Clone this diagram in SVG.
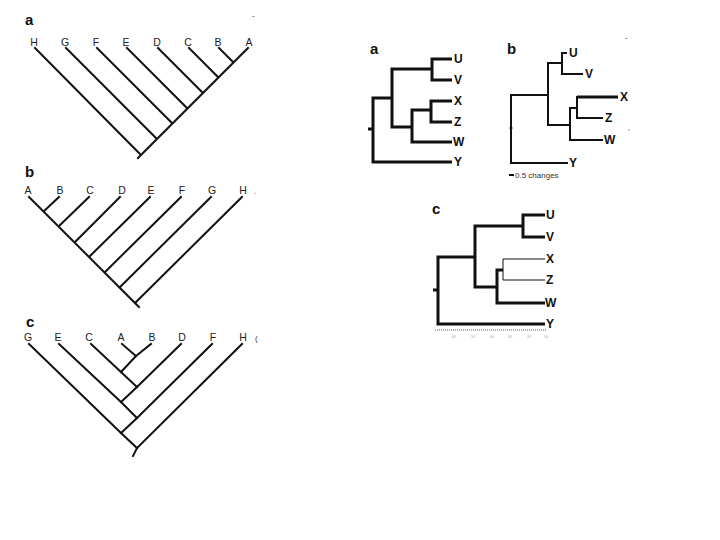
<svg xmlns="http://www.w3.org/2000/svg" width="720" height="540" viewBox="0 0 720 540">
<style>
.bg{fill:#fff}
.pl{font-family:"Liberation Sans",Arial,sans-serif;font-weight:bold;font-size:15px;fill:#111}
.tl{font-family:"Liberation Sans",Arial,sans-serif;font-size:10.5px;fill:#222;text-anchor:middle}
.rl{font-family:"Liberation Sans",Arial,sans-serif;font-size:12px;font-weight:bold;fill:#111;dominant-baseline:middle}
.e{fill:none;stroke:#111;stroke-width:2;stroke-linecap:square;stroke-linejoin:miter}
.t{fill:none;stroke:#111;stroke-width:3;stroke-linecap:butt}
.m{fill:none;stroke:#111;stroke-width:2;stroke-linecap:butt}
.h{fill:none;stroke:#111;stroke-width:1;stroke-linecap:butt}
.sm{font-family:"Liberation Sans",Arial,sans-serif;font-size:8px;fill:#333}
.ax{font-family:"Liberation Sans",Arial,sans-serif;font-size:4px;fill:#aaa;text-anchor:middle}
</style>
<rect class="bg" x="0" y="0" width="720" height="540"/>

<!-- Left panel a -->
<g id="left-a">
<text class="pl" x="25" y="25">a</text>
<text class="sm" x="252" y="18">-</text>
<text class="tl" x="34" y="46">H</text>
<text class="tl" x="65" y="46">G</text>
<text class="tl" x="96" y="46">F</text>
<text class="tl" x="126" y="46">E</text>
<text class="tl" x="157" y="46">D</text>
<text class="tl" x="188" y="46">C</text>
<text class="tl" x="218" y="46">B</text>
<text class="tl" x="249" y="46">A</text>
</g>
<g id="left-a-edges">
<path class="e" d="M248,48 L140,156 L138,158"/>
<path class="e" d="M219,48 L233,62"/>
<path class="e" d="M189,48 L218,77"/>
<path class="e" d="M158,48 L202.5,92.5"/>
<path class="e" d="M127,48 L187,108"/>
<path class="e" d="M97,48 L172,123"/>
<path class="e" d="M66,48 L156.5,138.5"/>
<path class="e" d="M35,48 L140.5,154.5"/>
</g>

<!-- Left panel b -->
<g id="left-b">
<text class="pl" x="25" y="177">b</text>
<text class="sm" x="254" y="194">.</text>
<text class="tl" x="28" y="194">A</text>
<text class="tl" x="60" y="194">B</text>
<text class="tl" x="90" y="194">C</text>
<text class="tl" x="122" y="194">D</text>
<text class="tl" x="151" y="194">E</text>
<text class="tl" x="182" y="194">F</text>
<text class="tl" x="212" y="194">G</text>
<text class="tl" x="243" y="194">H</text>
</g>
<g id="left-b-edges">
<path class="e" d="M29,197 L139,307"/>
<path class="e" d="M59,197 L44,211"/>
<path class="e" d="M89,197 L59,226"/>
<path class="e" d="M120,197 L75,242"/>
<path class="e" d="M150,197 L89.5,256.5"/>
<path class="e" d="M181,197 L105,272"/>
<path class="e" d="M211,197 L120,287"/>
<path class="e" d="M242,197 L135.5,302.5"/>
</g>

<!-- Left panel c -->
<g id="left-c">
<text class="pl" x="26" y="327">c</text>
<text class="tl" x="28" y="341">G</text>
<text class="tl" x="58" y="341">E</text>
<text class="tl" x="89" y="341">C</text>
<text class="tl" x="121" y="341">A</text>
<text class="tl" x="152" y="341">B</text>
<text class="tl" x="182" y="341">D</text>
<text class="tl" x="213" y="341">F</text>
<text class="tl" x="243" y="341">H</text>
<text class="sm" x="255" y="341" fill="#555">(</text>
</g>
<g id="left-c-edges">
<path class="e" d="M122,344 L136,356"/>
<path class="e" d="M151,344 L136,356 L121,372"/>
<path class="e" d="M91,344 L121,372 L137,387"/>
<path class="e" d="M181,344 L137,387 L121,402"/>
<path class="e" d="M59,344 L121,402 L137,418"/>
<path class="e" d="M212,344 L137,418 L121,433"/>
<path class="e" d="M29,344 L121,433 L137,448"/>
<path class="e" d="M242,344 L137,448 L133,456"/>
</g>

<!-- Right panel a -->
<g id="right-a">
<text class="pl" x="370" y="54">a</text>
<text class="rl" x="454" y="60">U</text>
<text class="rl" x="454" y="81">V</text>
<text class="rl" x="454" y="102">X</text>
<text class="rl" x="454" y="123">Z</text>
<text class="rl" x="453" y="143">W</text>
<text class="rl" x="454" y="163">Y</text>
</g>
<g id="right-a-edges">
<path class="t" d="M368,129 H373 M373,96.5 V163.5 M373,162 H452 M373,98 H392 M392,67.5 V128.5 M392,69 H432 M432,57.5 V81.5 M432,59 H452 M432,80 H452 M392,127 H412 M412,108.5 V143.5 M412,142 H452 M412,110 H431 M431,99.5 V123.5 M431,101 H452 M431,122 H452"/>
</g>

<!-- Right panel b -->
<g id="right-b">
<text class="pl" x="507" y="54">b</text>
<text class="sm" x="625" y="40">-</text>
<text class="sm" x="628" y="134" fill="#777">'</text>
<text class="rl" x="569" y="54">U</text>
<text class="rl" x="585" y="75">V</text>
<text class="rl" x="620" y="98">X</text>
<text class="rl" x="605" y="119">Z</text>
<text class="rl" x="604" y="141">W</text>
<text class="rl" x="569" y="164">Y</text>
<text class="sm" x="515" y="178">0.5 changes</text>
</g>
<g id="right-b-edges">
<circle cx="511" cy="128" r="1.5" fill="#111"/>
<path class="m" d="M511,94 V164 M511,163 H568 M511,95 H548 M548,62 V126 M548,63 H562 M562,52 V75 M562,53 H567 M562,74 H583 M548,125 H570 M570,107 V141 M570,140 H603 M570,108 H577 M577,96 V119 M577,118 H603"/>
<path class="t" d="M577,97 H618"/>
<path class="m" d="M509,175 H514"/>
</g>

<!-- Right panel c -->
<g id="right-c">
<text class="pl" x="432" y="214">c</text>
<text class="rl" x="546" y="216">U</text>
<text class="rl" x="546" y="238">V</text>
<text class="rl" x="546" y="260">X</text>
<text class="rl" x="546" y="281">Z</text>
<text class="rl" x="545" y="304">W</text>
<text class="rl" x="546" y="325">Y</text>
<text class="ax" x="454" y="338">60</text>
<text class="ax" x="473" y="338">50</text>
<text class="ax" x="492" y="338">40</text>
<text class="ax" x="510" y="338">30</text>
<text class="ax" x="529" y="338">20</text>
<text class="ax" x="546" y="338">10</text>
</g>
<g id="right-c-edges">
<path class="t" d="M433,290 H438 M438,255.5 V325.5 M438,324 H545 M438,257 H475 M475,224.5 V288.5 M475,226 H523 M523,213.5 V238.5 M523,215 H545 M523,237 H545 M475,287 H497 M497,268.5 V304.5 M497,303 H545 M497,270 H503"/>
<path class="h" d="M503,259 V280 M503,259 H545 M503,280 H545"/>
<path d="M435,330 H546" stroke="#aaa" stroke-width="2" stroke-dasharray="1 1" fill="none"/>
</g>
</svg>
